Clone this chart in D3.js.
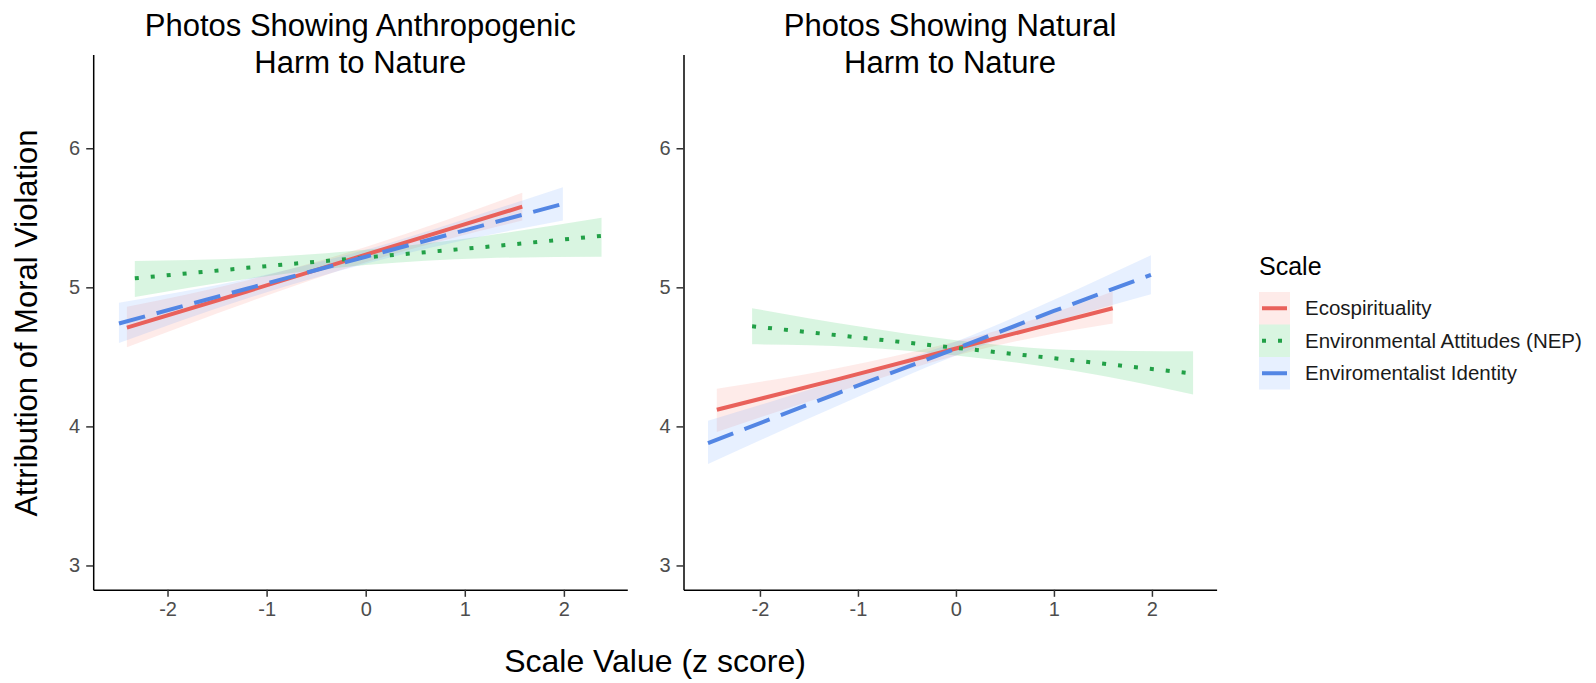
<!DOCTYPE html>
<html>
<head>
<meta charset="utf-8">
<script src="https://d3js.org/d3.v7.min.js"></script>
<style>
  body { margin: 0; background: #fff; }
  svg { font-family: "Liberation Sans", Arial, sans-serif; }
</style>
</head>
<body>
<svg width="1596" height="683"></svg>
<script>
// Datos: [x, ajuste, IC inferior, IC superior]
const scaleNames = ["Ecospirituality", "Environmental Attitudes (NEP)", "Enviromentalist Identity"];
const panelTitles = [["Photos Showing Anthropogenic", "Harm to Nature"], ["Photos Showing Natural", "Harm to Nature"]];
const xTicks = [-2, -1, 0, 1, 2];
const yTicks = [3, 4, 5, 6];

const anthroEco = [[-2.41, 4.71, 4.57, 4.86], [-1.2, 4.97, 4.89, 5.05], [0, 5.235, 5.18, 5.29], [0.8, 5.41, 5.34, 5.48], [1.58, 5.58, 5.48, 5.68]];
const anthroNep = [[-2.33, 5.065, 4.93, 5.19], [-1.2, 5.14, 5.06, 5.21], [0, 5.215, 5.16, 5.27], [1.2, 5.29, 5.21, 5.37], [2.38, 5.37, 5.22, 5.50]];
const anthroId  = [[-2.49, 4.74, 4.60, 4.89], [-1.2, 4.99, 4.92, 5.06], [0, 5.22, 5.17, 5.27], [1.0, 5.41, 5.34, 5.49], [1.99, 5.60, 5.48, 5.72]];

const naturalEco = [[-2.44, 4.12, 3.96, 4.27], [-1.2, 4.34, 4.25, 4.42], [0, 4.56, 4.51, 4.61], [0.8, 4.705, 4.64, 4.77], [1.60, 4.85, 4.74, 4.97]];
const naturalNep = [[-2.08, 4.72, 4.59, 4.85], [-1.0, 4.64, 4.57, 4.72], [0, 4.565, 4.51, 4.62], [1.2, 4.475, 4.40, 4.55], [2.42, 4.38, 4.23, 4.54]];
const naturalId  = [[-2.53, 3.88, 3.73, 4.04], [-1.2, 4.24, 4.15, 4.33], [0, 4.56, 4.51, 4.61], [1.0, 4.83, 4.75, 4.91], [1.99, 5.09, 4.95, 5.23]];

// Estilos de cada escala
const lineColors = ["#E9615B", "#22A047", "#5386E4"];
const fillColors = ["#F8766D", "#00BA38", "#619CFF"];
const dashes = [null, "4,12", "27,12"];

const svg = d3.select("svg");

const y = d3.scaleLinear().domain([2.825, 6.675]).range([589.8, 54.4]);

const panels = [
  { title: panelTitles[0], x: d3.scaleLinear().domain([-2.75, 2.64]).range([93.2, 627.3]), series: [anthroEco, anthroNep, anthroId] },
  { title: panelTitles[1], x: d3.scaleLinear().domain([-2.78, 2.66]).range([683.5, 1216.6]), series: [naturalEco, naturalNep, naturalId] }
];

panels.forEach(p => {
  const x = p.x;
  const g = svg.append("g");

  const area = d3.area()
      .x(d => x(d[0]))
      .y0(d => y(d[2]))
      .y1(d => y(d[3]))
      .curve(d3.curveMonotoneX);

  const line = d3.line()
      .x(d => x(d[0]))
      .y(d => y(d[1]));

  // Bandas de confianza
  g.selectAll("path.ribbon")
      .data(p.series)
      .enter().append("path")
      .attr("class", "ribbon")
      .attr("d", area)
      .attr("fill", (d, i) => fillColors[i])
      .attr("fill-opacity", 0.15);

  // Rectas de regresión
  g.selectAll("path.fit")
      .data(p.series)
      .enter().append("path")
      .attr("class", "fit")
      .attr("d", line)
      .attr("fill", "none")
      .attr("stroke", (d, i) => lineColors[i])
      .attr("stroke-width", 4)
      .attr("stroke-dasharray", (d, i) => dashes[i]);

  // Ejes
  const xAxis = g.append("g")
      .attr("transform", `translate(0,${y.range()[0]})`)
      .call(d3.axisBottom(x).tickValues(xTicks).tickSize(7).tickSizeOuter(0).tickPadding(5).tickFormat(d => String(d)));

  const yAxis = g.append("g")
      .attr("transform", `translate(${x.range()[0]},0)`)
      .call(d3.axisLeft(y).tickValues(yTicks).tickSize(7).tickSizeOuter(0).tickPadding(6).tickFormat(d => String(d)));

  [xAxis, yAxis].forEach(a => {
    a.select(".domain").attr("stroke", "#000").attr("stroke-width", 1.5);
    a.selectAll(".tick line").attr("stroke", "#333").attr("stroke-width", 1.5);
    a.selectAll(".tick text").attr("fill", "#4d4d4d").style("font-size", "20px").attr("font-family", null);
  });
  xAxis.attr("font-family", null);
  yAxis.attr("font-family", null);

  // Título del panel
  const cx = (x.range()[0] + x.range()[1]) / 2;
  g.append("text")
      .attr("text-anchor", "middle")
      .attr("x", cx)
      .style("font-size", "31px")
      .selectAll("tspan")
      .data(p.title)
      .enter().append("tspan")
      .attr("x", cx)
      .attr("y", (d, i) => 35.5 + i * 37)
      .text(d => d);
});

// Títulos de los ejes
svg.append("text")
    .attr("text-anchor", "middle")
    .attr("x", 655)
    .attr("y", 671.5)
    .style("font-size", "32px")
    .text("Scale Value (z score)");

svg.append("text")
    .attr("text-anchor", "middle")
    .attr("transform", "translate(37,323) rotate(-90)")
    .style("font-size", "31px")
    .text("Attribution of Moral Violation");

// Leyenda
const legend = svg.append("g").attr("transform", "translate(1259,292)");

legend.append("text")
    .attr("x", 0)
    .attr("y", -17)
    .style("font-size", "25px")
    .text("Scale");

const item = legend.selectAll("g.item")
    .data(scaleNames)
    .enter().append("g")
    .attr("class", "item")
    .attr("transform", (d, i) => `translate(0,${i * 32.5})`);

item.append("rect")
    .attr("width", 31)
    .attr("height", 32.5)
    .attr("fill", (d, i) => fillColors[i])
    .attr("fill-opacity", 0.15);

item.append("line")
    .attr("x1", 3)
    .attr("x2", 28)
    .attr("y1", 16.25)
    .attr("y2", 16.25)
    .attr("stroke", (d, i) => lineColors[i])
    .attr("stroke-width", 4)
    .attr("stroke-dasharray", (d, i) => i === 1 ? "4,12" : null);

item.append("text")
    .attr("x", 46)
    .attr("y", 16.25)
    .attr("dy", "0.35em")
    .attr("fill", "#1a1a1a")
    .style("font-size", "20.5px")
    .text(d => d);
</script>
</body>
</html>
